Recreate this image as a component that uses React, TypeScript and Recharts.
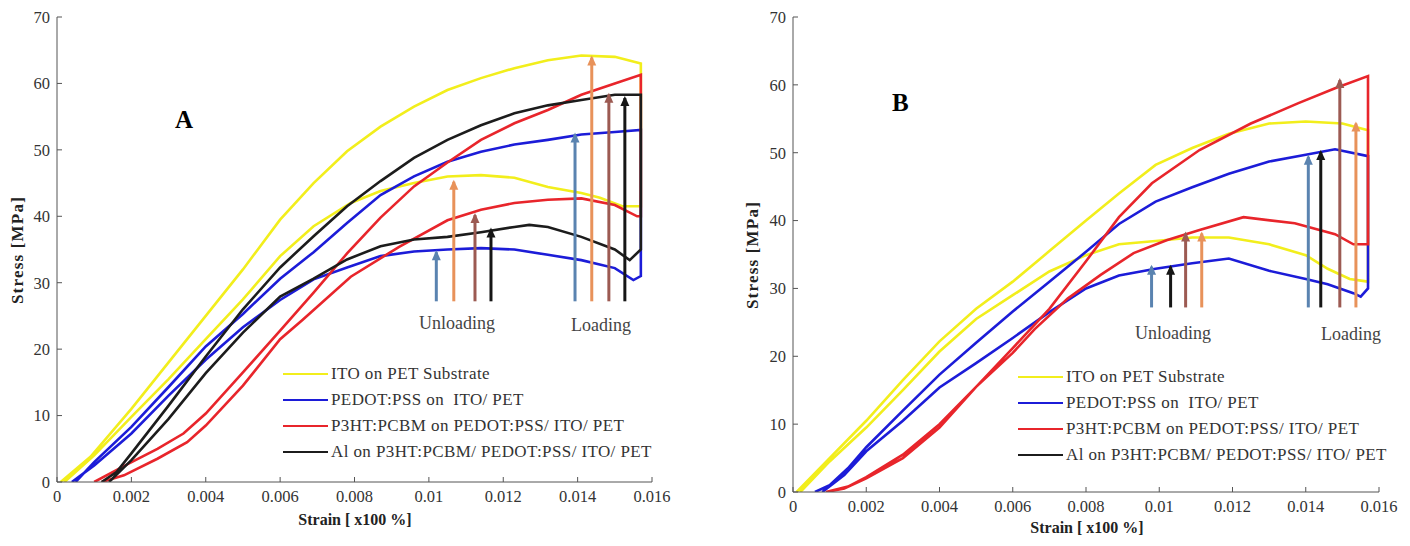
import React from 'react'
import { LineChart, Line, XAxis, YAxis, Legend } from 'recharts'

const strainTicks = [0, 0.002, 0.004, 0.006, 0.008, 0.01, 0.012, 0.014, 0.016]
const stressTicks = [0, 10, 20, 30, 40, 50, 60, 70]

const seriesNames = [
  'ITO on PET Substrate',
  'PEDOT:PSS on  ITO/ PET',
  'P3HT:PCBM on PEDOT:PSS/ ITO/ PET',
  'Al on P3HT:PCBM/ PEDOT:PSS/ ITO/ PET',
]
const seriesColors = ['#f2ee1c', '#1c1cd8', '#e8252b', '#1c1c1c']

// ---- panel A: loading branch, then unloading branch ----
const itoA_loadStrain = [0.0001, 0.0009, 0.002, 0.003, 0.004, 0.005, 0.006, 0.0069, 0.0078, 0.0087, 0.0096, 0.0105, 0.0114, 0.0123, 0.0132, 0.0141, 0.015, 0.0157]
const itoA_loadStress = [0, 3.8, 11, 18, 25, 32, 39.5, 45, 49.8, 53.5, 56.5, 59, 60.8, 62.3, 63.5, 64.2, 64, 63]
const itoA_unloadStrain = [0.0157, 0.0152, 0.0146, 0.0141, 0.0132, 0.0123, 0.0114, 0.0105, 0.0096, 0.0087, 0.0079, 0.0069, 0.006, 0.005, 0.004, 0.003, 0.002, 0.001, 0.0002]
const itoA_unloadStress = [41.5, 41.5, 42.8, 43.5, 44.4, 45.8, 46.2, 46, 45, 43.8, 42, 38.5, 34, 27.5, 21.5, 15.5, 9.8, 4, 0]

const pedotA_loadStrain = [0.0005, 0.001, 0.002, 0.003, 0.004, 0.005, 0.006, 0.0069, 0.0078, 0.0087, 0.0096, 0.0105, 0.0114, 0.0123, 0.0132, 0.0141, 0.015, 0.0157]
const pedotA_loadStress = [0, 3, 8.3, 14.3, 20.4, 25.3, 30.6, 34.6, 39, 43.2, 46, 48.2, 49.7, 50.8, 51.5, 52.3, 52.7, 53]
const pedotA_unloadStrain = [0.0157, 0.0155, 0.015, 0.0141, 0.0132, 0.0123, 0.0114, 0.0105, 0.0096, 0.0087, 0.0078, 0.0069, 0.006, 0.005, 0.004, 0.003, 0.002, 0.001, 0.0004]
const pedotA_unloadStress = [31, 30.4, 32.2, 33.4, 34.2, 35, 35.2, 35, 34.7, 34, 32.3, 30.5, 27.4, 23.3, 18.4, 13, 7.3, 2.5, 0]

const p3htA_loadStrain = [0.001, 0.0019, 0.0027, 0.0034, 0.004, 0.005, 0.006, 0.0069, 0.0078, 0.0087, 0.0096, 0.0105, 0.0114, 0.0123, 0.0132, 0.0141, 0.015, 0.0157]
const p3htA_loadStress = [0, 2.7, 5, 7.3, 10.3, 16.5, 22.8, 28.5, 34.4, 39.8, 44.5, 48.1, 51.5, 54, 56, 58.3, 60, 61.3]
const p3htA_unloadStrain = [0.0157, 0.0156, 0.015, 0.0141, 0.0132, 0.0123, 0.0114, 0.0105, 0.0092, 0.0079, 0.0066, 0.006, 0.005, 0.004, 0.0035, 0.0027, 0.0018, 0.0012]
const p3htA_unloadStress = [40, 40, 41.7, 42.7, 42.5, 42, 41, 39.4, 35.4, 30.9, 24.4, 21.5, 14.5, 8.5, 6, 3.5, 1, 0]

const alA_loadStrain = [0.0012, 0.0016, 0.002, 0.003, 0.004, 0.005, 0.006, 0.0069, 0.0078, 0.0087, 0.0096, 0.0105, 0.0114, 0.0123, 0.0132, 0.0141, 0.015, 0.0157]
const alA_loadStress = [0, 1.5, 4.3, 11.5, 18.9, 26, 32.3, 37, 41.5, 45.3, 48.8, 51.5, 53.7, 55.5, 56.7, 57.5, 58.3, 58.3]
const alA_unloadStrain = [0.0157, 0.0154, 0.015, 0.0141, 0.0132, 0.0127, 0.0123, 0.0114, 0.0105, 0.0096, 0.0087, 0.0078, 0.0069, 0.006, 0.005, 0.004, 0.003, 0.002, 0.0014]
const alA_unloadStress = [35, 33.4, 35, 36.9, 38.4, 38.7, 38.4, 37.6, 36.9, 36.5, 35.5, 33.5, 30.6, 27.9, 22.5, 16.4, 9.5, 3.3, 0]

// ---- panel B ----
const itoB_loadStrain = [0.0001, 0.001, 0.002, 0.003, 0.004, 0.005, 0.006, 0.007, 0.008, 0.0089, 0.0099, 0.0109, 0.0119, 0.013, 0.014, 0.015, 0.0157]
const itoB_loadStress = [0, 5, 10.5, 16.5, 22.2, 27, 31, 35.5, 40, 44, 48.2, 50.7, 52.8, 54.3, 54.6, 54.3, 53.3]
const itoB_unloadStrain = [0.0157, 0.0152, 0.0146, 0.014, 0.013, 0.0119, 0.0109, 0.0099, 0.0089, 0.008, 0.007, 0.006, 0.005, 0.004, 0.003, 0.002, 0.001, 0.0002]
const itoB_unloadStress = [31, 31.4, 32.9, 34.9, 36.5, 37.5, 37.5, 37, 36.5, 34.9, 32.5, 29, 25.5, 20.7, 15, 9.5, 4.5, 0]

const pedotB_loadStrain = [0.0006, 0.001, 0.0015, 0.002, 0.003, 0.004, 0.005, 0.006, 0.007, 0.008, 0.0089, 0.0099, 0.0109, 0.0119, 0.013, 0.014, 0.0148, 0.0157]
const pedotB_loadStress = [0, 1, 3.5, 6.6, 12, 17.3, 22, 26.6, 31, 35.4, 39.5, 42.8, 44.9, 46.9, 48.7, 49.7, 50.5, 49.5]
const pedotB_unloadStrain = [0.0157, 0.0155, 0.0153, 0.0146, 0.014, 0.013, 0.0119, 0.0109, 0.0099, 0.0089, 0.008, 0.007, 0.006, 0.005, 0.004, 0.003, 0.002, 0.0014, 0.0008]
const pedotB_unloadStress = [30, 28.8, 29.3, 30.6, 31.4, 32.6, 34.4, 33.7, 32.9, 31.9, 30, 26.5, 22.7, 19, 15.4, 10.5, 6, 2.5, 0]

const p3htB_loadStrain = [0.0009, 0.0015, 0.002, 0.003, 0.004, 0.005, 0.006, 0.007, 0.008, 0.0089, 0.0098, 0.0111, 0.0125, 0.0138, 0.0148, 0.0157]
const p3htB_loadStress = [0, 0.8, 2.2, 5.5, 10, 15.5, 21.2, 27, 34, 40.5, 45.5, 50.4, 54.3, 57.3, 59.5, 61.3]
const p3htB_unloadStrain = [0.0157, 0.0153, 0.0148, 0.0137, 0.0123, 0.0111, 0.0102, 0.0093, 0.0084, 0.0075, 0.0066, 0.006, 0.005, 0.004, 0.003, 0.002, 0.0014, 0.0009]
const p3htB_unloadStress = [36.5, 36.5, 38, 39.6, 40.5, 38.6, 37.1, 35.2, 32, 28.5, 24, 20.5, 15.5, 9.5, 5, 2, 0.5, 0]

// arrows: strain position and tip stress (unloading group, then loading group)
const arrowBase = 27.2
const arrowA_strain = [0.0102, 0.01067, 0.01124, 0.01167, 0.01393, 0.01438, 0.01484, 0.01527]
const arrowA_top = [34.6, 45.2, 40.2, 38, 52.3, 63.9, 58.3, 57.8]
const arrowA_colors = ['#5a83b0', '#e8925a', '#9c5a52', '#161616', '#5a83b0', '#e8925a', '#9c5a52', '#161616']
const arrowB_strain = [0.00979, 0.01031, 0.01072, 0.01116, 0.01407, 0.01441, 0.01493, 0.01537]
const arrowB_top = [33.2, 33.2, 38.1, 38.1, 49.4, 50.1, 60.7, 54.3]
const arrowB_colors = ['#5a83b0', '#161616', '#9c5a52', '#e8925a', '#5a83b0', '#161616', '#9c5a52', '#e8925a']

const loop = (xs1: number[], ys1: number[], xs2: number[], ys2: number[]) =>
  [...xs1, ...xs2].map((x, i) => ({ x, y: [...ys1, ...ys2][i] }))

const serif = '"Liberation Serif", "Times New Roman", serif'

const arrowHead = (color: string) => (p: any) =>
  p.index === 1 ? (
    <polygon
      key={`h${p.index}`}
      points={`${p.cx},${p.cy - 2} ${p.cx - 4.5},${p.cy + 8} ${p.cx + 4.5},${p.cy + 8}`}
      fill={color}
    />
  ) : (
    <g key={`h${p.index}`} />
  )

const XTick = (props: any) => (
  <text x={props.x} y={props.y} dy="0.71em" textAnchor="middle" fill="#333" fontSize={16.5} fontFamily={serif}>
    {props.payload.value}
  </text>
)

const YTick = (props: any) => (
  <text x={props.x} y={props.y} dy="0.355em" textAnchor="end" fill="#333" fontSize={16.5} fontFamily={serif}>
    {props.payload.value}
  </text>
)

function LegendBox() {
  return (
    <div style={{ fontFamily: serif, fontSize: 17, color: '#333', letterSpacing: 0.4 }}>
      {seriesNames.map((name, i) => (
        <div key={name} style={{ display: 'flex', alignItems: 'center', height: 26 }}>
          <div style={{ width: 45, height: 2, background: seriesColors[i], marginRight: 3 }} />
          <span style={{ whiteSpace: 'pre' }}>{name}</span>
        </div>
      ))}
    </div>
  )
}

interface PanelProps {
  width: number
  height: number
  yAxisWidth: number
  xAxisHeight: number
  rightMargin: number
  curves: { x: number; y: number }[][]
  arrowStrain: number[]
  arrowTop: number[]
  arrowColors: string[]
  legendLeft: number
  legendTop: number
}

function Panel(p: PanelProps) {
  return (
    <LineChart width={p.width} height={p.height} margin={{ top: 17, right: p.rightMargin, left: 0, bottom: 0 }}>
      <XAxis
        dataKey="x"
        type="number"
        domain={[0, 0.016]}
        ticks={strainTicks}
        allowDataOverflow
        height={p.xAxisHeight}
        tickSize={-5}
        tickMargin={13}
        stroke="#555"
        tick={<XTick />}
      />
      <YAxis
        type="number"
        domain={[0, 70]}
        ticks={stressTicks}
        allowDataOverflow
        width={p.yAxisWidth}
        tickSize={-5}
        tickMargin={12}
        stroke="#555"
        tick={<YTick />}
      />
      {p.curves.map((c, i) => (
        <Line
          key={`c${i}`}
          data={c}
          dataKey="y"
          type="linear"
          stroke={seriesColors[i]}
          strokeWidth={2.6}
          dot={false}
          activeDot={false}
          isAnimationActive={false}
        />
      ))}
      {p.arrowStrain.map((s, i) => (
        <Line
          key={`a${i}`}
          data={[{ x: s, y: arrowBase }, { x: s, y: p.arrowTop[i] }]}
          dataKey="y"
          stroke={p.arrowColors[i]}
          strokeWidth={3}
          dot={arrowHead(p.arrowColors[i])}
          activeDot={false}
          isAnimationActive={false}
        />
      ))}
      <Legend
        layout="horizontal"
        align="center"
        verticalAlign="middle"
        content={() => <LegendBox />}
        wrapperStyle={{ left: p.legendLeft, top: p.legendTop, width: 'auto', height: 'auto' }}
      />
    </LineChart>
  )
}

const txt = (style: React.CSSProperties, s: string) => (
  <div style={{ position: 'absolute', fontFamily: serif, whiteSpace: 'pre', ...style }}>{s}</div>
)

export default function App() {
  return (
    <div style={{ position: 'absolute', left: 0, top: 0, width: 1410, height: 546, background: '#fff', overflow: 'hidden', fontFamily: serif }}>
      <div style={{ position: 'absolute', left: 0, top: 0 }}>
        <Panel
          width={700}
          height={546}
          yAxisWidth={57}
          xAxisHeight={64}
          rightMargin={48}
          curves={[
            loop(itoA_loadStrain, itoA_loadStress, itoA_unloadStrain, itoA_unloadStress),
            loop(pedotA_loadStrain, pedotA_loadStress, pedotA_unloadStrain, pedotA_unloadStress),
            loop(p3htA_loadStrain, p3htA_loadStress, p3htA_unloadStrain, p3htA_unloadStress),
            loop(alA_loadStrain, alA_loadStress, alA_unloadStrain, alA_unloadStress),
          ]}
          arrowStrain={arrowA_strain}
          arrowTop={arrowA_top}
          arrowColors={arrowA_colors}
          legendLeft={283}
          legendTop={361}
        />
      </div>
      <div style={{ position: 'absolute', left: 700, top: 0 }}>
        <Panel
          width={710}
          height={546}
          yAxisWidth={93}
          xAxisHeight={54}
          rightMargin={31}
          curves={[
            loop(itoB_loadStrain, itoB_loadStress, itoB_unloadStrain, itoB_unloadStress),
            loop(pedotB_loadStrain, pedotB_loadStress, pedotB_unloadStrain, pedotB_unloadStress),
            loop(p3htB_loadStrain, p3htB_loadStress, p3htB_unloadStrain, p3htB_unloadStress),
          ]}
          arrowStrain={arrowB_strain}
          arrowTop={arrowB_top}
          arrowColors={arrowB_colors}
          legendLeft={318}
          legendTop={364}
        />
      </div>
      {txt({ left: 175, top: 106, fontSize: 25, fontWeight: 'bold', color: '#000' }, 'A')}
      {txt({ left: 892, top: 89, fontSize: 25, fontWeight: 'bold', color: '#000' }, 'B')}
      {txt({ left: 419, top: 313, fontSize: 18, color: '#444' }, 'Unloading')}
      {txt({ left: 571, top: 315, fontSize: 18, color: '#444' }, 'Loading')}
      {txt({ left: 1135, top: 323, fontSize: 18, color: '#444' }, 'Unloading')}
      {txt({ left: 1321, top: 324, fontSize: 18, color: '#444' }, 'Loading')}
      {txt({ left: 255, top: 511, width: 200, textAlign: 'center', fontSize: 16, fontWeight: 'bold', color: '#222' }, 'Strain [ x100 %]')}
      {txt({ left: 987, top: 519, width: 200, textAlign: 'center', fontSize: 16, fontWeight: 'bold', color: '#222' }, 'Strain [ x100 %]')}
      {txt({ left: -82, top: 240, width: 200, textAlign: 'center', fontSize: 17, fontWeight: 'bold', color: '#222', letterSpacing: 1.2, transform: 'rotate(-90deg)' }, 'Stress [MPa]')}
      {txt({ left: 653, top: 245, width: 200, textAlign: 'center', fontSize: 17, fontWeight: 'bold', color: '#222', letterSpacing: 1.2, transform: 'rotate(-90deg)' }, 'Stress [MPa]')}
    </div>
  )
}
